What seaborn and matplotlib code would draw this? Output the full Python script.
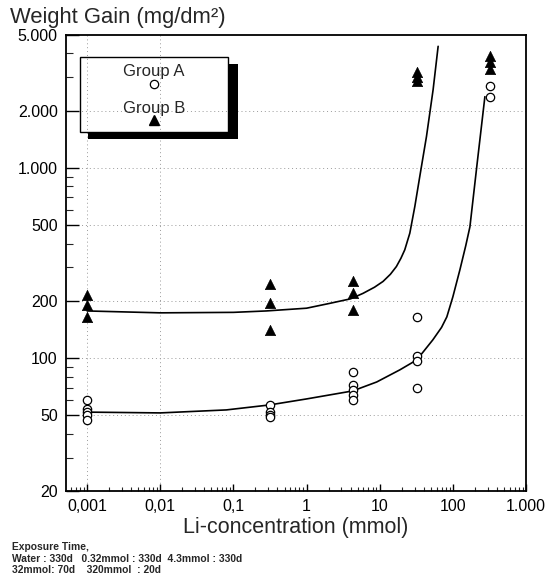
import numpy as np
import pandas as pd
import matplotlib
matplotlib.use("Agg")
import matplotlib.pyplot as plt
import seaborn as sns
from matplotlib.patches import Rectangle

# ---------------- data ----------------
a_conc = [0.001] * 5 + [0.32] * 4 + [4.3] * 5 + [32] * 4 + [320] * 2
a_gain = [60, 54, 52, 50, 47,
          57, 52, 50, 49,
          85, 72, 68, 64, 60,
          165, 103, 96, 70,
          2700, 2370]

b_conc = [0.001] * 3 + [0.32] * 3 + [4.3] * 3 + [32] * 3 + [320] * 3
b_gain = [215, 190, 165,
          245, 195, 140,
          255, 220, 180,
          3200, 3000, 2850,
          3900, 3600, 3300]

# fitted curves
fit_a_conc = [0.001, 0.01, 0.08, 0.31, 1.0, 4.27, 9.1, 18.8, 32.1, 53.2,
              70, 82.7, 100, 124.7, 150, 171, 215, 274]
fit_a_gain = [52, 51.5, 53.4, 56.7, 61, 67.2, 74.9, 86.7, 97.8, 124.7,
              145, 164.7, 210, 291, 390, 490, 1061, 2370]

fit_b_conc = [0.001, 0.01, 0.1, 0.28, 1.0, 2.07, 4.0, 5.91, 8.5, 11.1, 14.0,
              16.9, 19.5, 22.0, 25.8, 30.2, 35.3, 43.6, 53.7, 62.9]
fit_b_gain = [177, 173, 174, 177, 183, 194, 205, 219, 236, 253, 276,
              303, 335, 371, 454, 627, 902, 1465, 2580, 4360]

x_ticks = [0.001, 0.01, 0.1, 1, 10, 100, 1000]
x_tick_labels = ["0,001", "0,01", "0,1", "1", "10", "100", "1.000"]
y_ticks = [20, 50, 100, 200, 500, 1000, 2000, 5000]
y_tick_labels = ["20", "50", "100", "200", "500", "1.000", "2.000", "5.000"]

legend_labels = ["Group A", "Group B"]

# ---------------- style ----------------
sns.set_theme(style="ticks")
plt.rcParams["font.family"] = ["Liberation Sans", "DejaVu Sans"]
plt.rcParams["xtick.direction"] = "in"
plt.rcParams["ytick.direction"] = "in"

fig = plt.figure(figsize=(5.5, 5.77), dpi=100)
ax = fig.add_axes([0.12, 0.149, 0.8364, 0.7903])

df_a = pd.DataFrame({"conc": a_conc, "gain": a_gain})
df_b = pd.DataFrame({"conc": b_conc, "gain": b_gain})
fa = pd.DataFrame({"conc": fit_a_conc, "gain": fit_a_gain})
fb = pd.DataFrame({"conc": fit_b_conc, "gain": fit_b_gain})

ax.set_xscale("log")
ax.set_yscale("log")

# grid (faint dotted)
for yv in [50, 100, 200, 500, 1000, 2000]:
    ax.axhline(yv, color="#9a9a9a", lw=0.7, ls=(0, (1, 3)), zorder=0)
for xv in [0.001, 0.01]:
    ax.axvline(xv, color="#9a9a9a", lw=0.7, ls=(0, (1, 3)), zorder=0)

sns.lineplot(data=fa, x="conc", y="gain", ax=ax, color="black", lw=1.2,
             sort=False, estimator=None, zorder=2)
sns.lineplot(data=fb, x="conc", y="gain", ax=ax, color="black", lw=1.2,
             sort=False, estimator=None, zorder=2)

sns.scatterplot(data=df_a, x="conc", y="gain", ax=ax, marker="o", s=36,
                facecolor="white", edgecolor="black", linewidth=0.9, zorder=3)
sns.scatterplot(data=df_b, x="conc", y="gain", ax=ax, marker="^", s=55,
                color="black", edgecolor="black", linewidth=0.5, zorder=3)

ax.set_xlim(0.000515, 1000)
ax.set_ylim(20, 5000)

ax.set_xticks(x_ticks, x_tick_labels, fontsize=11.5)
ax.set_yticks(y_ticks, y_tick_labels, fontsize=11.5)
ax.xaxis.set_minor_locator(matplotlib.ticker.LogLocator(base=10, subs=np.arange(2, 10)))
ax.yaxis.set_minor_locator(matplotlib.ticker.LogLocator(base=10, subs=np.arange(2, 10)))
ax.xaxis.set_minor_formatter(matplotlib.ticker.NullFormatter())
ax.yaxis.set_minor_formatter(matplotlib.ticker.NullFormatter())
ax.tick_params(axis="x", which="major", length=5, width=1, pad=6, colors="black")
ax.tick_params(axis="x", which="minor", length=3, width=0.8)
ax.tick_params(axis="y", which="major", length=9, width=1, pad=6, colors="black")
ax.tick_params(axis="y", which="minor", length=5, width=0.8)

for side in ["left", "bottom", "right", "top"]:
    ax.spines[side].set_visible(True)
    ax.spines[side].set_color("black")
    ax.spines[side].set_linewidth(1.3)

ax.set_xlabel("Li-concentration (mmol)", fontsize=15.5, labelpad=2)
ax.set_ylabel("")

fig.text(10 / 550, 1 - 23 / 577, "Weight Gain (mg/dm²)", fontsize=15.8,
         ha="left", va="baseline")

# legend: outlined box with black drop shadow
tr = ax.transAxes
ax.add_patch(Rectangle((0.352, 0.772), 0.022, 0.164, transform=tr,
                       facecolor="black", edgecolor="none", zorder=4))
ax.add_patch(Rectangle((0.048, 0.772), 0.326, 0.015, transform=tr,
                       facecolor="black", edgecolor="none", zorder=4))
ax.add_patch(Rectangle((0.030, 0.787), 0.322, 0.165, transform=tr,
                       facecolor="none", edgecolor="black", lw=1.0, zorder=4))
ax.text(0.191, 0.919, legend_labels[0], transform=tr, ha="center",
        va="center", fontsize=12, zorder=5)
ax.text(0.191, 0.838, legend_labels[1], transform=tr, ha="center",
        va="center", fontsize=12, zorder=5)
ax.plot([0.191], [0.893], transform=tr, marker="o", ms=6, mfc="white",
        mec="black", mew=0.9, ls="none", zorder=5)
ax.plot([0.191], [0.814], transform=tr, marker="^", ms=7.5, mfc="black",
        mec="black", ls="none", zorder=5)

# footnote
foot = ["Exposure Time,",
        "Water : 330d   0.32mmol : 330d  4.3mmol : 330d",
        "32mmol: 70d    320mmol  : 20d"]
for i, line in enumerate(foot):
    fig.text(12 / 550, 1 - (550 + 11.7 * i) / 577, line, fontsize=7.4,
             fontweight="bold", ha="left", va="baseline")

fig.savefig("out.png", dpi=100)
